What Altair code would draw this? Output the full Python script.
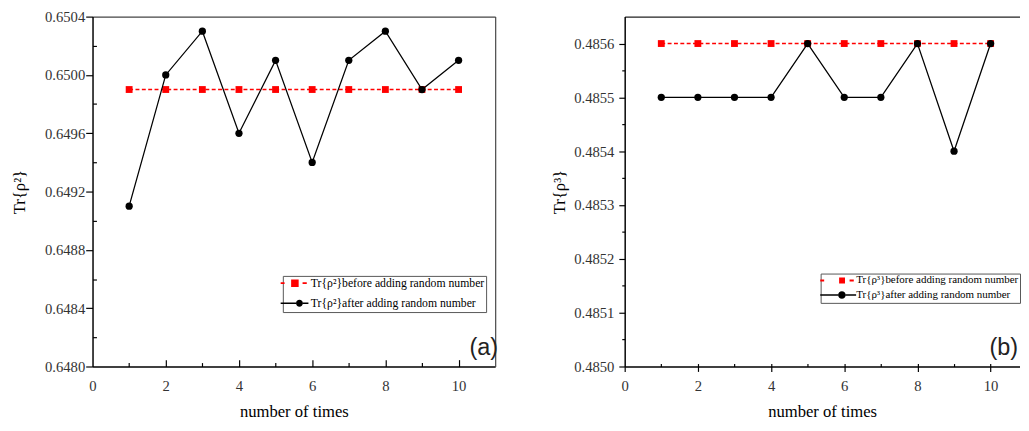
import altair as alt
import pandas as pd

# ---------------- data ----------------
times = [1, 2, 3, 4, 5, 6, 7, 8, 9, 10]
before_a = [0.6499, 0.6499, 0.6499, 0.6499, 0.6499, 0.6499, 0.6499, 0.6499, 0.6499, 0.6499]
after_a = [0.6491, 0.6500, 0.6503, 0.6496, 0.6501, 0.6494, 0.6501, 0.6503, 0.6499, 0.6501]
before_b = [0.4856, 0.4856, 0.4856, 0.4856, 0.4856, 0.4856, 0.4856, 0.4856, 0.4856, 0.4856]
after_b = [0.4855, 0.4855, 0.4855, 0.4855, 0.4856, 0.4855, 0.4855, 0.4856, 0.4854, 0.4856]

x_major = [0, 2, 4, 6, 8, 10]
x_major_inner = [2, 4, 6, 8, 10]
x_minor = [1, 3, 5, 7, 9]
y_major_a = [0.6480, 0.6484, 0.6488, 0.6492, 0.6496, 0.6500, 0.6504]
y_minor_a = [0.6482, 0.6486, 0.6490, 0.6494, 0.6498, 0.6502]
y_major_b = [0.4850, 0.4851, 0.4852, 0.4853, 0.4854, 0.4855, 0.4856]
y_minor_b = [0.48505, 0.48515, 0.48525, 0.48535, 0.48545, 0.48555]

legend_a = ["Tr{ρ²}before adding random number", "Tr{ρ²}after adding random number"]
legend_b = ["Tr{ρ³}before adding random number", "Tr{ρ³}after adding random number"]
panel_tags = ["(a)", "(b)"]
x_title = "number of times"
y_titles = ["Tr{ρ²}", "Tr{ρ³}"]

SERIF = "Liberation Serif"
H = 358
W_A = 412
W_B = 404

# legend symbols (line + marker) as custom paths (unit = 5 px);
# the lone move-to points only widen the legend box, nothing is drawn there
sym_red_a = ("M0,-1.96 "
             "M-1.94,-0.18L-1.14,-0.18L-1.14,0.18L-1.94,0.18Z "
             "M0.2,-0.77L1.74,-0.77L1.74,0.77L0.2,0.77Z "
             "M2.54,-0.18L3.4,-0.18L3.4,0.18L2.54,0.18Z")
sym_blk_a = ("M0,1.36 "
             "M-1.94,-0.14L1.2,-0.14L1.2,0.14L-1.94,0.14Z "
             "M2.6,-0.14L3.74,-0.14L3.74,0.14L2.6,0.14Z "
             "M1.2,0A0.7,0.7 0 1,0 2.6,0A0.7,0.7 0 1,0 1.2,0Z")
sym_red_b = ("M0,-0.78 "
             "M-1.5,-0.2L-0.7,-0.2L-0.7,0.2L-1.5,0.2Z "
             "M2.36,-0.6L3.56,-0.6L3.56,0.6L2.36,0.6Z "
             "M4.5,-0.2L5.36,-0.2L5.36,0.2L4.5,0.2Z")
sym_blk_b = ("M0,1.3 "
             "M-1.5,-0.15L2.16,-0.15L2.16,0.15L-1.5,0.15Z "
             "M3.7,-0.15L5.84,-0.15L5.84,0.15L3.7,0.15Z "
             "M2.16,0A0.77,0.77 0 1,0 3.7,0A0.77,0.77 0 1,0 2.16,0Z")


def tick_axis(orient, values, size, offset=0):
    return alt.Axis(orient=orient, values=values, tickSize=size, offset=offset,
                    labels=False, domain=False, grid=False, title=None,
                    ticks=True, tickColor="black", tickWidth=1.2)


def frame_axis(orient, color):
    return alt.Axis(orient=orient, ticks=False, labels=False, domain=True,
                    domainColor=color, domainWidth=1.2, grid=False, title=None)


def main_x(tick_size, label_pad):
    kw = dict(orient="bottom", values=x_major, format="d", title=x_title,
              labelFont=SERIF, labelFontSize=15, labelColor="#333",
              labelPadding=label_pad, labelFlush=False, labelOverlap=False,
              titleFont=SERIF, titleFontSize=17, titleFontWeight="normal",
              titleColor="black", titlePadding=10, domainColor="black",
              domainWidth=1.5, grid=False)
    if tick_size > 0:
        kw.update(ticks=True, tickSize=tick_size, tickColor="black", tickWidth=1.2)
    else:
        kw.update(ticks=False)
    return alt.Axis(**kw)


def main_y(values, title, tick_size, label_pad, title_pad):
    return alt.Axis(orient="left", values=values, format=".4f", title=title,
                    labelFont=SERIF, labelFontSize=15, labelColor="#333",
                    labelPadding=label_pad, labelOverlap=False, labelFlush=False,
                    titleFont=SERIF, titleFontSize=17, titleFontWeight="normal",
                    titleColor="black", titlePadding=title_pad,
                    tickSize=tick_size, tickColor="black", tickWidth=1.2,
                    domainColor="black", domainWidth=1.5, grid=False)


def make_legend(x, y, pad, row_pad, size, font_size, label_offset):
    return alt.Legend(title=None, orient="none", legendX=x, legendY=y,
                      padding=pad, rowPadding=row_pad, symbolSize=size,
                      symbolStrokeWidth=0, labelFont=SERIF,
                      labelFontSize=font_size, labelColor="black",
                      labelOffset=label_offset, labelLimit=0,
                      strokeColor="#555", fillColor="white", cornerRadius=0)


def build(before, after, labels, ydom, xdom, W, ax, legend, paths, tag, tag_x, tag_y):
    xs = alt.Scale(domain=xdom, nice=False, zero=False)
    ys = alt.Scale(domain=ydom, nice=False, zero=False)
    dfb = pd.DataFrame({"t": times, "v": before, "s": labels[0]})
    dfa = pd.DataFrame({"t": times, "v": after, "s": labels[1]})

    red_line = alt.Chart(dfb).mark_line(color="#ff0000", strokeWidth=1.5, strokeDash=[4, 2.5]).encode(
        x=alt.X("t:Q", scale=xs, axis=ax["x1"]), y=alt.Y("v:Q", scale=ys, axis=ax["y1"]))
    red_pts = alt.Chart(dfb).mark_point(shape="square", filled=True, size=49, color="#ff0000", opacity=1).encode(
        x=alt.X("t:Q", scale=xs, axis=ax["x2"]), y=alt.Y("v:Q", scale=ys, axis=ax["y2"]))
    blk_line = alt.Chart(dfa).mark_line(color="black", strokeWidth=1.3).encode(
        x=alt.X("t:Q", scale=xs, axis=ax["x3"]), y=alt.Y("v:Q", scale=ys, axis=ax["y3"]))
    blk_pts = alt.Chart(dfa).mark_point(shape="circle", filled=True, size=55, color="black", opacity=1).encode(
        x=alt.X("t:Q", scale=xs, axis=ax["x4"]), y=alt.Y("v:Q", scale=ys, axis=None))
    leg = alt.Chart(dfa).transform_filter("false").mark_point(filled=True, opacity=1, strokeWidth=0).encode(
        x=alt.X("t:Q", scale=xs, axis=None),
        y=alt.Y("v:Q", scale=ys, axis=None),
        color=alt.Color("s:N", scale=alt.Scale(domain=labels, range=["#ff0000", "#000000"]), legend=legend),
        shape=alt.Shape("s:N", scale=alt.Scale(domain=labels, range=paths), legend=legend),
    )
    tag_chart = alt.Chart(pd.DataFrame({"lab": [tag]})).mark_text(
        font="Liberation Sans", fontSize=24, align="right", baseline="middle", color="#222").encode(
        x=alt.value(tag_x), y=alt.value(tag_y), text="lab:N")
    return alt.layer(red_line, red_pts, blk_line, blk_pts, leg, tag_chart).resolve_axis(
        x="independent", y="independent").properties(width=W, height=H)


ax_a = {
    "x1": main_x(0, 13),
    "x2": tick_axis("top", x_major_inner, 7, -H),
    "x3": tick_axis("top", x_minor, 4, -H),
    "x4": frame_axis("top", "#444"),
    "y1": main_y(y_major_a, y_titles[0], 7, 1, 16),
    "y2": tick_axis("right", y_minor_a, 4, -W_A),
    "y3": frame_axis("right", "#444"),
}
ax_b = {
    "x1": main_x(5, 8),
    "x2": tick_axis("top", x_major_inner, 3, -H),
    "x3": tick_axis("top", x_minor, 3, -H),
    "x4": frame_axis("top", "#222"),
    "y1": main_y(y_major_b, y_titles[1], 6, 5, 5),
    "y2": tick_axis("left", y_minor_b, 3),
    "y3": None,
}

left = build(before_a, after_a, legend_a, [0.6480, 0.6504], [0, 11], W_A, ax_a,
             make_legend(194.7, 265.3, 1.5, 8.5, 100, 12, 15.1), [sym_red_a, sym_blk_a],
             panel_tags[0], 415, 339)
right = build(before_b, after_b, legend_b, [0.4850, 0.48565], [0, 10.79], W_B, ax_b,
              make_legend(200.5, 262.9, 1.5, 2.8, 100, 11.2, 23.7), [sym_red_b, sym_blk_b],
              panel_tags[1], 402.5, 339)

chart = alt.hconcat(left, right, spacing=53.5).resolve_scale(
    color="independent", shape="independent"
).properties(
    padding={"left": 2.5, "top": -3, "right": 0, "bottom": 0},
    background="white",
).configure_view(stroke=None)

chart.save("out.html", embed_options={"renderer": "svg", "actions": False})
